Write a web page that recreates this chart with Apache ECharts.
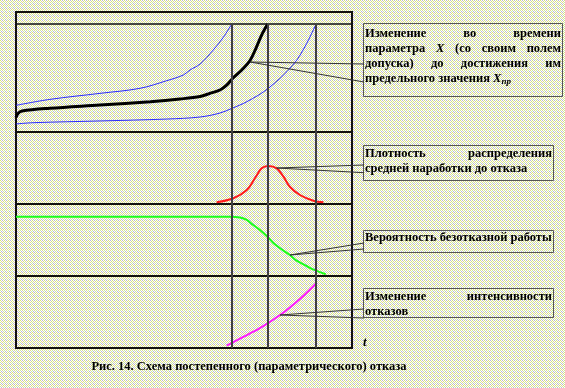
<!DOCTYPE html>
<html><head><meta charset="utf-8">
<script src="https://cdn.jsdelivr.net/npm/echarts@6/dist/echarts.min.js"></script>
<style>html,body{margin:0;padding:0;}#c{width:565px;height:388px;}</style>
</head><body><div id="c"></div>
<script>
// time axis 0..100, panel values 0..100
const paramUpper = [[0,22.2],[10.1,27.2],[25,32.2],[36.9,36.4],[44.8,42.7],[49.8,47.5],[51.8,51.7],[54.8,56.7],[58.7,68.3],[61.7,78.9],[64.2,90]];
const paramMain = [[0,12],[0.6,15.5],[1.8,17.5],[10,19.8],[25,22.5],[40,25.3],[48.8,27.5],[54.8,29.6],[57.7,32.2],[60.7,35],[62.7,39],[64.6,45],[67.2,51.7],[69.6,59.4],[71.6,71],[73.1,80.8],[74.9,90]];
const paramLower = [[0,6.7],[5.1,7.75],[25,9.2],[44.9,10.8],[54.8,12.5],[60.7,15.8],[64.3,19.75],[68.7,25.25],[75.1,36.4],[82.4,55.8],[86,71.1],[89.3,90]];
const densityValues = [[59.7,2.4],[64.7,8],[68.7,19.4],[71.1,35.7],[73.1,49.5],[75.1,52.8],[77.6,49.5],[79.6,38],[81.5,24],[84.5,12.5],[88.5,4.6],[91.5,2.4]];
const reliabilityValues = [[0,82.4],[63.7,82.4],[66.7,81.25],[68.7,77.8],[70.6,70.8],[72.6,63.9],[74.6,55.6],[76.6,45.8],[78.6,38.5],[81.5,29.2],[83.5,21.25],[86.5,13.9],[88.4,9.3],[92.2,2.4]];
const failureRateValues = [[62.7,3.2],[68.7,18],[73.6,30.5],[78.6,45.8],[81.5,56.3],[84.5,68],[86.9,78.5],[89.5,90.7]];
const failureTimes = [64.2, 74.9, 89.3];
const limitValue = 90;

const box1Lines = [["Изменение","во","времени"],["параметра","X","(со","своим","полем"],["допуска)","до","достижения","им"]];
const box2Lines = [["Плотность","распределения"]];
const box2Last = "средней наработки до отказа";
const box3Text = "Вероятность безотказной работы";
const box4Lines = [["Изменение","интенсивности"]];
const box4Last = "отказов";
const captionText = "Рис. 14. Схема постепенного (параметрического) отказа";

const chart = echarts.init(document.getElementById('c'));

// background dither pattern
const pc = document.createElement('canvas'); pc.width = 4; pc.height = 4;
const pctx = pc.getContext('2d');
pctx.fillStyle = '#ffffff'; pctx.fillRect(0,0,4,4);
const dcols = ['#d4e07c','#bcb6e0','#c8e8a0','#e0d890'];
let k = 0;
for (let yy=0; yy<4; yy++) for (let xx=0; xx<4; xx++) if ((xx+yy)%2===0) { pctx.fillStyle = dcols[(k + yy) % 4]; k++; pctx.fillRect(xx,yy,1,1); }

const FS = 12.5;
const FONT_FAMILY = '"Liberation Serif", "Times New Roman", serif';
const mc = document.createElement('canvas').getContext('2d');
function measure(word, italic) {
  mc.font = (italic ? 'italic ' : '') + 'bold ' + FS + 'px ' + FONT_FAMILY;
  return mc.measureText(word).width;
}
const shadow = {textShadowColor:'rgba(50,50,50,0.7)', textShadowOffsetX:1, textShadowOffsetY:1, textShadowBlur:0};
const textStyleBase = Object.assign({fill:'#000', fontSize:FS, fontWeight:'bold', fontFamily:FONT_FAMILY,
  textVerticalAlign:'middle', textAlign:'left'}, shadow);
const graphics = [];
function justify(words, x0, x1, y) {
  const ws = words.map(w => measure(w, w==='X'));
  const sum = ws.reduce((a,b)=>a+b,0);
  const gap = (x1 - x0 - sum) / (words.length - 1);
  let x = x0;
  words.forEach((w,i) => {
    graphics.push({type:'text', x:x, y:y, z:10, style:Object.assign({}, textStyleBase, {text:w, fontStyle: w==='X'?'italic':'normal'})});
    x += ws[i] + gap;
  });
}
function plain(text, x, y) {
  graphics.push({type:'text', x:x, y:y, z:10, style:Object.assign({}, textStyleBase, {text:text})});
}
function box(x, y, w, h) {
  graphics.push({type:'rect', z:9, shape:{x:x, y:y, width:w, height:h}, style:{fill:'none', stroke:'#555', lineWidth:1}});
}
function leader(pts) {
  graphics.push({type:'polyline', z:9, shape:{points:pts}, style:{stroke:'#333', lineWidth:1, fill:'none'}});
}

// box 1
box(363.5, 23.5, 199, 73);
box1Lines.forEach((ln,i) => justify(ln, 365, 561, 34 + i*14.7));
graphics.push({type:'text', x:365, y:78.3, z:10, style:Object.assign({}, textStyleBase, {
  text:'предельного значения {x|X}{s|пр}',
  rich:{x:Object.assign({fontStyle:'italic', fontWeight:'bold', fontSize:FS, fontFamily:FONT_FAMILY}, shadow),
        s:Object.assign({fontStyle:'italic', fontWeight:'bold', fontSize:9, fontFamily:FONT_FAMILY, padding:[7,0,0,0]}, shadow)}
})});
leader([[364,64],[250,62],[364,82]]);
// box 2
box(363.5, 145.5, 190, 35);
box2Lines.forEach((ln,i) => justify(ln, 365, 552, 153.3));
plain(box2Last, 365, 168.3);
leader([[364,165],[276.7,168],[364,172.7]]);
// box 3
box(363.5, 230.5, 190, 22);
plain(box3Text, 365, 238);
leader([[364,243],[290,255],[364,249]]);
// box 4
box(363.5, 288.5, 190, 29);
box4Lines.forEach((ln,i) => justify(ln, 365, 552, 297));
plain(box4Last, 365, 312);
leader([[364,309],[280,315],[364,318]]);
// t label
graphics.push({type:'text', x:363, y:343, z:10, style:Object.assign({}, textStyleBase, {text:'t', fontStyle:'italic', fontSize:13})});
// caption
graphics.push({type:'text', x:249, y:367, z:10, style:Object.assign({}, textStyleBase, {text:captionText, textAlign:'center'})});

const tops = [12, 132, 204, 276];
const heights = [120, 72, 72, 72];
const grids = tops.map((t,i) => ({left:16, width:336, top:t, height:heights[i], show:true, borderColor:'#111', borderWidth:2, backgroundColor:'transparent'}));
const xAxes = tops.map((t,i) => ({type:'value', gridIndex:i, min:0, max:100, show:false}));
const yAxes = tops.map((t,i) => ({type:'value', gridIndex:i, min:0, max:100, show:false}));

const vStyle = {color:'#404040', width:2, type:'solid', opacity:1};
function vLinesFull() {
  return {silent:true, symbol:'none', label:{show:false}, lineStyle:vStyle, animation:false,
    data: failureTimes.map(t => ({xAxis:t, lineStyle:vStyle}))};
}
function line(data, idx, color, width, extra) {
  return Object.assign({type:'line', xAxisIndex:idx, yAxisIndex:idx, data:data, showSymbol:false, symbol:'none',
    smooth:0.35, lineStyle:{color:color, width:width}, itemStyle:{color:color}, animation:false, z:3}, extra||{});
}

const series = [
  line(paramUpper, 0, '#2a2aff', 1),
  line(paramLower, 0, '#2a2aff', 1),
  line(paramMain, 0, '#000', 3, {markLine:{silent:true, symbol:'none', label:{show:false}, animation:false,
    data:[{yAxis:limitValue, lineStyle:{color:'#111', width:1.5, type:'solid'}}].concat(
      failureTimes.map(t => [{coord:[t,limitValue], lineStyle:vStyle},{coord:[t,0]}]))}}),
  line(densityValues, 1, '#ff1a1a', 2, {markLine:vLinesFull()}),
  line(reliabilityValues, 2, '#1aff1a', 2, {smooth:0.3, markLine:vLinesFull()}),
  line(failureRateValues, 3, '#ff1aff', 2, {markLine:vLinesFull()})
];

chart.setOption({
  animation:false,
  backgroundColor:{image:pc, repeat:'repeat'},
  grid:grids, xAxis:xAxes, yAxis:yAxes, series:series,
  graphic:{elements:graphics}
});
</script></body></html>
